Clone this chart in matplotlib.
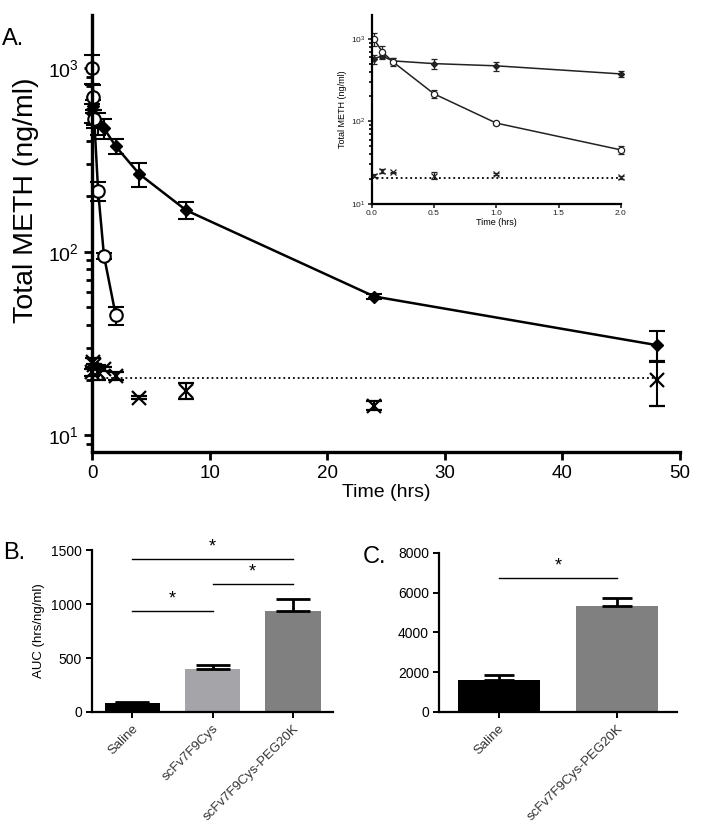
import numpy as np
import matplotlib
matplotlib.use("Agg")
import matplotlib.pyplot as plt

plt.rcParams['font.family'] = ['Liberation Sans', 'DejaVu Sans']
plt.rcParams['mathtext.fontset'] = 'custom'
plt.rcParams['mathtext.rm'] = 'Liberation Sans'

# ---- panel A data (time in hrs, METH in ng/ml) ----
t_scfv = [0.017, 0.083, 0.167, 0.5, 1.0, 2.0]
scfv = [1000, 700, 530, 215, 95, 45]
scfv_err = [180, 110, 60, 25, 4, 5]

t_peg = [0.017, 0.083, 0.167, 0.5, 1.0, 2.0, 4, 8, 24, 48]
peg = [570, 620, 540, 500, 470, 375, 265, 168, 57, 31]
peg_err = [70, 50, 50, 70, 60, 35, 40, 18, 2, 6]

t_sal = [0.017, 0.083, 0.167, 0.5, 1.0, 2.0, 4, 8, 24, 48]
saline = [22, 25, 24, 22, 23, 21, 16, 17.5, 14.5, 20]
saline_err = [1, 1.5, 0.5, 2, 0.5, 1, 0.3, 1.7, 0.8, 5.5]

loq = 20.5

# ---- panel B / C data (AUC) ----
b_groups = ['Saline', 'scFv7F9Cys', 'scFv7F9Cys-PEG20K']
b_auc = [86, 400, 940]
b_err = [5, 37, 105]
b_sig = [(0, 2, 1423), (1, 2, 1186), (0, 1, 939)]

c_groups = ['Saline', 'scFv7F9Cys-PEG20K']
c_auc = [1593, 5317]
c_err = [270, 420]
c_sig = [(0, 1, 6742)]

fig = plt.figure(figsize=(7.04, 8.25), dpi=100)

# ---------------- panel A ----------------
ax = fig.add_axes([0.131, 0.452, 0.835, 0.530])
kw = dict(color='black', capsize=5.5, elinewidth=1.5, capthick=1.5, clip_on=False)
ax.errorbar(t_peg, peg, yerr=peg_err, marker='D', ms=6, lw=1.8, **kw)
ax.errorbar(t_scfv, scfv, yerr=scfv_err, marker='o', ms=9, mfc='white', mew=1.5, lw=1.8, **kw)
ax.errorbar(t_sal, saline, yerr=saline_err, marker='x', ms=10, mew=1.6, ls='none', **kw)
ax.plot([0, 48], [loq, loq], ls=':', color='black', lw=1.3)
ax.set_yscale('log')
ax.set_xlim(0, 50)
ax.set_ylim(8.1, 1950)
ax.set_xticks([0, 10, 20, 30, 40, 50])
for s in ['top', 'right']:
    ax.spines[s].set_visible(False)
for s in ['left', 'bottom']:
    ax.spines[s].set_linewidth(2.4)
ax.tick_params(axis='x', which='major', length=6, width=2, labelsize=13.5)
ax.tick_params(axis='y', which='major', length=6, width=2, labelsize=14)
ax.tick_params(axis='y', which='minor', length=4, width=2)
ax.set_xlabel('Time (hrs)', fontsize=14, labelpad=1)
ax.set_ylabel('Total METH (ng/ml)', fontsize=20.5)
ax.yaxis.set_label_coords(-0.09, 0.575)
fig.text(0.003, 0.945, 'A.', fontsize=17)

# inset
ins = fig.add_axes([0.528, 0.753, 0.354, 0.229])
ikw = dict(color='#222222', capsize=2.5, elinewidth=0.9, capthick=0.9, clip_on=False)
ins.errorbar(t_peg[:6], peg[:6], yerr=peg_err[:6], marker='D', ms=3, lw=1.1, **ikw)
ins.errorbar(t_scfv, scfv, yerr=scfv_err, marker='o', ms=4.5, mfc='white', mew=0.9, lw=1.1, **ikw)
ins.errorbar(t_sal[:6], saline[:6], yerr=saline_err[:6], marker='x', ms=4.5, mew=0.9, ls='none', **ikw)
ins.plot([0, 2], [loq, loq], ls=':', color='black', lw=1.3)
ins.set_yscale('log')
ins.set_xlim(0, 2)
ins.set_ylim(10, 1950)
ins.set_xticks([0, 0.5, 1.0, 1.5, 2.0])
ins.set_xticklabels(['0.0', '0.5', '1.0', '1.5', '2.0'])
for s in ['top', 'right']:
    ins.spines[s].set_visible(False)
for s in ['left', 'bottom']:
    ins.spines[s].set_linewidth(1.6)
ins.tick_params(which='major', length=3, width=1.2, labelsize=6, pad=1.5, colors='#222222')
ins.tick_params(which='minor', length=2, width=1.2)
ins.set_xlabel('Time (hrs)', fontsize=6.5, labelpad=1)
ins.set_ylabel('Total METH (ng/ml)', fontsize=6.5, labelpad=3)


def bar_panel(axb, groups, vals, errs, colors, sig, ymax, yticks, capsize):
    x = np.arange(len(groups))
    axb.bar(x, vals, width=0.69, color=colors)
    axb.errorbar(x, vals, yerr=[np.zeros(len(vals)), errs], fmt='none',
                 ecolor='black', elinewidth=2, capsize=capsize, capthick=2)
    for a, b, h in sig:
        axb.plot([a, b], [h, h], color='black', lw=1)
        axb.text((a + b) / 2, h + ymax * 0.02, '*', ha='center', va='bottom', fontsize=13)
    axb.set_xlim(-0.5, len(groups) - 0.5)
    axb.set_ylim(0, ymax)
    axb.set_yticks(yticks)
    axb.set_xticks(x)
    axb.set_xticklabels(groups, rotation=45, ha='right', rotation_mode='anchor',
                        fontsize=9.5, color='#333333')
    for s in ['top', 'right']:
        axb.spines[s].set_visible(False)
    for s in ['left', 'bottom']:
        axb.spines[s].set_linewidth(1.6)
    axb.tick_params(length=4, width=1.4, labelsize=10)
    axb.tick_params(axis='x', labelsize=9.5, labelcolor='#333333')


# ---------------- panel B ----------------
axb = fig.add_axes([0.131, 0.137, 0.342, 0.196])
bar_panel(axb, b_groups, b_auc, b_err, ['black', '#a4a4a9', '#808080'], b_sig,
          1500, [0, 500, 1000, 1500], 12)
axb.set_ylabel('AUC (hrs/ng/ml)', fontsize=9.5)
fig.text(0.005, 0.322, 'B.', fontsize=17)

# ---------------- panel C ----------------
axc = fig.add_axes([0.624, 0.137, 0.337, 0.193])
bar_panel(axc, c_groups, c_auc, c_err, ['black', '#808080'], c_sig,
          8000, [0, 2000, 4000, 6000, 8000], 11)
fig.text(0.515, 0.318, 'C.', fontsize=17)

fig.savefig('out.png', dpi=100)
